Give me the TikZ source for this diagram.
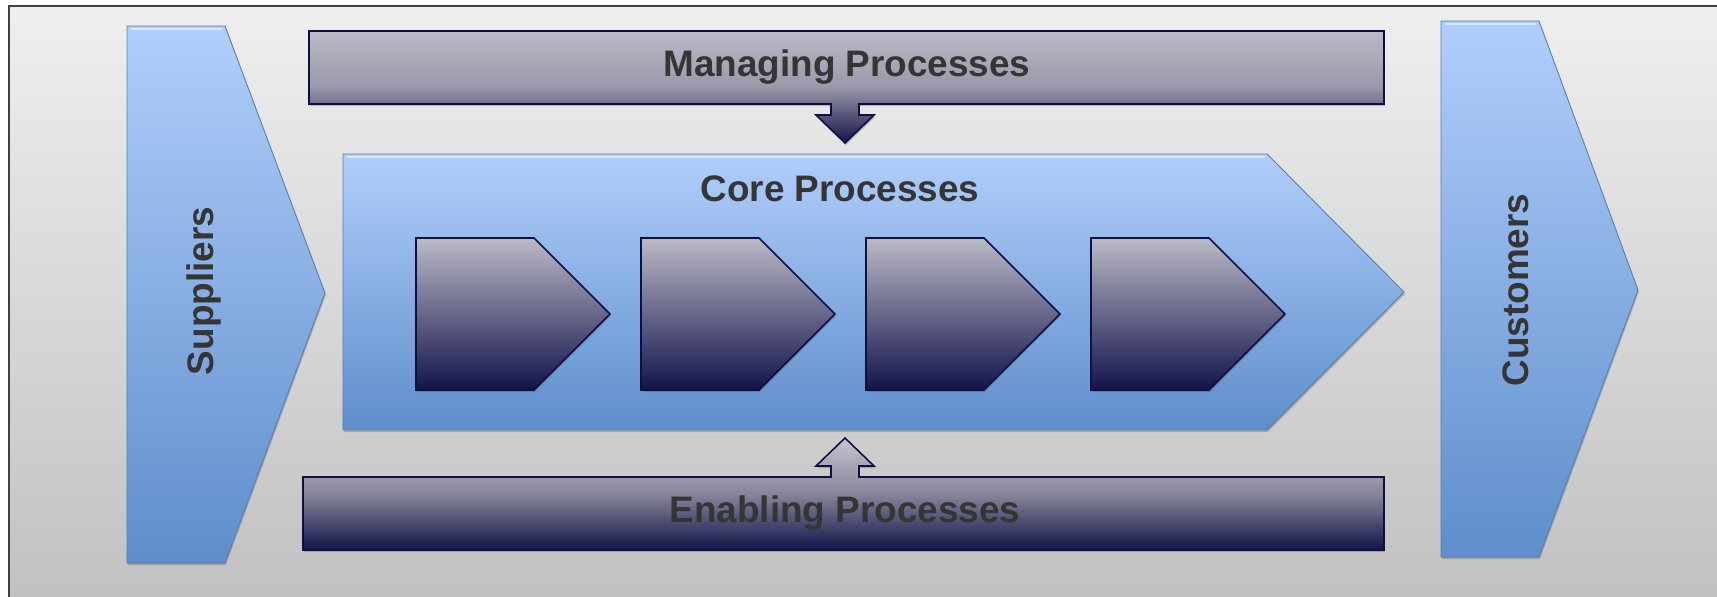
\documentclass[tikz,border=0pt]{standalone}
\usepackage{fontspec}
\setmainfont{Liberation Sans}
\usetikzlibrary{shadows}

\definecolor{skyTop}{HTML}{B1CEFB}
\definecolor{skyBot}{HTML}{5E8ECB}
\definecolor{skyLine}{HTML}{5A7DAF}
\definecolor{slateTop}{HTML}{BBBAC7}
\definecolor{slateMid}{HTML}{807F94}
\definecolor{navy}{HTML}{13134A}
\definecolor{navyLine}{HTML}{0F0F45}
\definecolor{labelGray}{HTML}{353535}
\definecolor{paperTop}{HTML}{EFEFEF}
\definecolor{paperBot}{HTML}{C1C1C1}

\begin{document}
\begin{tikzpicture}[x=0.02cm, y=-0.02cm,
			softshadow/.style = {drop shadow={opacity=0.3, shadow xshift=0.5pt, shadow yshift=-1.2pt, fill=black!70}},
			bluebody/.style  = {draw=skyLine, line width=0.5pt, top color=skyTop, bottom color=skyBot, softshadow},
			darkbody/.style  = {draw=navyLine, line width=0.9pt, top color=slateTop, middle color=slateMid, bottom color=navy, softshadow},
			glint/.style     = {white, opacity=0.55, line width=1.6pt},
			label/.style     = {text=labelGray, font=\fontsize{21}{25}\selectfont\bfseries, inner sep=0pt, anchor=base},]

			\clip (0,0) rectangle (1717,597);
			\fill[white] (0,0) rectangle (1717,597);

			%% BACKGROUND PANEL (runs off the page at right and bottom)
			\fill[top color=paperTop, bottom color=paperBot] (9,6) rectangle (1717,597);
			\draw[black!75, line width=1pt] (9,6) rectangle (1760,640);

			% SUPPLIERS AND CUSTOMERS
			\path[bluebody] (127,26) -- (225,26) -- (325,293) -- (225,563) -- (127,563) -- cycle;
			\draw[glint] (131,29) -- (222,29);
			\node[label, rotate=90, anchor=center] (sup) at (204,291) {Suppliers};

			\path[bluebody] (1441,21) -- (1539,21) -- (1638,290) -- (1539,557) -- (1441,557) -- cycle;
			\draw[glint] (1445,24) -- (1536,24);
			\node[label, rotate=90, anchor=center] (cust) at (1516,290) {Customers};

			%% MANAGING PROCESSES WITH ITS ARROW
			\path[darkbody, middle color=slateMid!80!white] (309,31) -- (1384,31) -- (1384,104) -- (859,104) -- (859,115) -- (874,115)
				-- (845,143) -- (816,115) -- (831,115) -- (831,104) -- (309,104) -- cycle;
			\node[label] (mng) at (847,77) {Managing Processes};

			%% CORE PROCESSES
			\path[bluebody] (343,154) -- (1267,154) -- (1404,292) -- (1267,430) -- (343,430) -- cycle;
			\draw[glint] (347,157) -- (1265,157);
			\node[label] (core) at (840,202) {Core Processes};
			% process steps
			\foreach \i in {0,...,3}
				\path[darkbody, xshift=\i*225*0.02cm] (416,238) -- (534,238) -- (610,314) -- (534,390) -- (416,390) -- cycle;

			%% ENABLING PROCESSES WITH ITS ARROW
			\path[darkbody, top color=slateTop!85!white, middle color=slateMid!95!white] (303,477) -- (831,477) -- (831,466) -- (816,466) -- (845,438)
				-- (874,466) -- (859,466) -- (859,477) -- (1384,477) -- (1384,550) -- (303,550) -- cycle;
			\node[label] (enab) at (845,522) {Enabling Processes};
\end{tikzpicture}
\end{document}
